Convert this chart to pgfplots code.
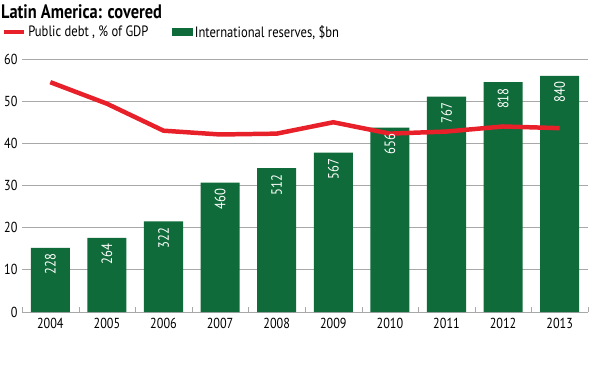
\documentclass[border=0pt]{standalone}
\usepackage{pgfplots}
\pgfplotsset{compat=1.18}
\usepackage{fontspec}
\setmainfont{PT Sans}[FakeStretch=0.84]
\definecolor{bargreen}{HTML}{106B3A}
\definecolor{linered}{HTML}{E8202A}
\definecolor{gridgray}{HTML}{A8A8A8}
\begin{document}
\begin{tikzpicture}
\useasboundingbox (0,0) rectangle (595bp,382bp);
\node[anchor=west, font=\bfseries\fontsize{19.5bp}{22bp}\selectfont, inner sep=0pt] at (1bp,370bp) {Latin America: covered};
\begin{axis}[
  at={(22bp,70bp)}, anchor=south west,
  scale only axis, width=566bp, height=253bp,
  xmin=-0.5, xmax=9.5, ymin=0, ymax=60,
  xtick={0,...,9},
  xticklabels={2004,2005,2006,2007,2008,2009,2010,2011,2012,2013},
  minor xtick={-0.5,0.5,...,9.5},
  major x tick style={draw=none},
  minor tick length=5bp,
  tick align=inside,
  x tick style={gridgray},
  ytick={0,10,...,60},
  ymajorgrids, grid style={gridgray, line width=0.8pt},
  y tick style={draw=none},
  axis x line*=bottom,
  axis y line*=left,
  y axis line style={draw=none},
  x axis line style={gridgray, line width=0.8pt, -},
  ticklabel style={font=\fontsize{14.5bp}{16bp}\selectfont},
  /pgf/number format/assume math mode=true,
  xticklabel style={yshift=-3bp},
  yticklabel style={xshift=-1bp},
  legend columns=2,
  legend style={at={(-0.036,1.107)}, anchor=west, draw=none, fill=none,
    font=\fontsize{15bp}{17bp}\selectfont, inner sep=0pt,
    /tikz/every even column/.append style={column sep=22bp}},
  clip=false,
]
\addlegendimage{legend image code/.code={\draw[linered, line width=4.5pt] (0bp,0bp) -- (20bp,0bp);}}
\addlegendentry{Public debt , \% of GDP}
\addlegendimage{legend image code/.code={\fill[bargreen] (0bp,-3.5bp) rectangle (20bp,3.5bp);}}
\addlegendentry{International reserves, \$bn}
\addplot[ybar, bar width=39bp, fill=bargreen, draw=none, forget plot,
  point meta=explicit symbolic,
  nodes near coords,
  every node near coord/.append style={rotate=90, anchor=east, text=white,
    font=\fontsize{15bp}{17bp}\selectfont, inner xsep=6bp}]
  coordinates {
  (0,15.2) [228]
  (1,17.6) [264]
  (2,21.5) [322]
  (3,30.7) [460]
  (4,34.1) [512]
  (5,37.8) [567]
  (6,43.7) [656]
  (7,51.1) [767]
  (8,54.5) [818]
  (9,56.0) [840]
  };
\addplot[linered, line width=4.5pt, mark=none, forget plot]
  coordinates {
  (0,54.5) (1,49.4) (2,43.0) (3,42.1) (4,42.3) (5,45.0) (6,42.3) (7,42.8) (8,44.0) (9,43.6)
  };
\end{axis}
\end{tikzpicture}
\end{document}
